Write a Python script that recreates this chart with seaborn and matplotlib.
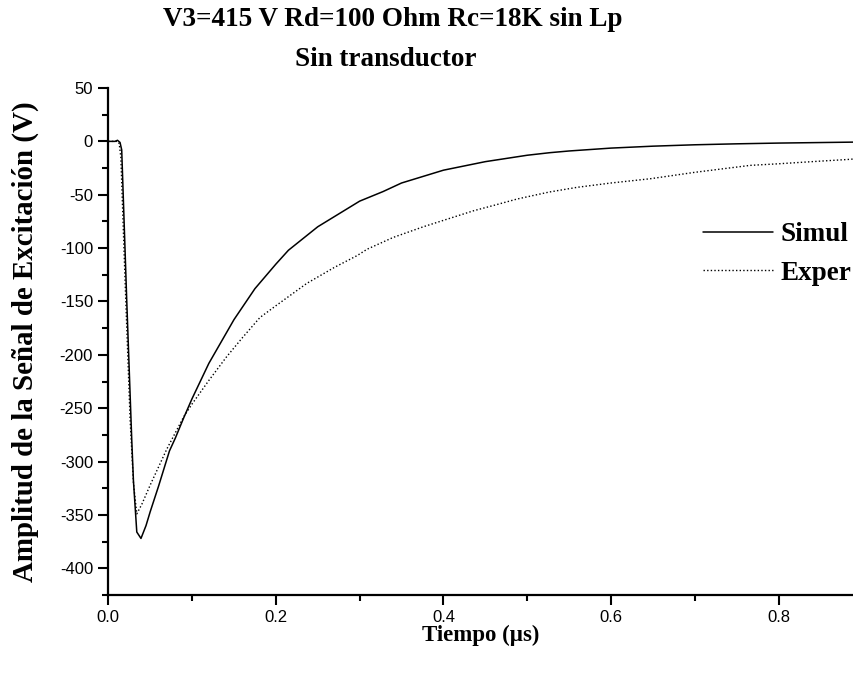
import matplotlib
matplotlib.use("Agg")
import matplotlib.pyplot as plt
import seaborn as sns
import pandas as pd

# Simulated excitation pulse (time in µs, amplitude in V)
simul_t = [0.000, 0.008, 0.011, 0.014, 0.016, 0.022, 0.028, 0.030, 0.034, 0.039,
           0.045, 0.050, 0.060, 0.073, 0.080, 0.090, 0.100, 0.120, 0.150, 0.175,
           0.200, 0.215, 0.250, 0.300, 0.328, 0.350, 0.400, 0.450, 0.500, 0.527,
           0.550, 0.600, 0.650, 0.700, 0.750, 0.800, 0.850, 0.890]
simul_v = [0.0, 0.0, 1.0, -1.0, -8.0, -149.0, -280.0, -318.0, -366.0, -372.0,
           -360.0, -347.0, -323.0, -290.0, -278.0, -259.0, -241.0, -208.0, -167.0, -138.0,
           -115.0, -102.0, -80.0, -56.0, -47.0, -39.0, -27.0, -19.0, -13.0, -10.6,
           -9.0, -6.3, -4.5, -3.2, -2.3, -1.6, -1.1, -0.7]

# Measured excitation pulse
exper_t = [0.000, 0.008, 0.011, 0.013, 0.015, 0.020, 0.026, 0.030, 0.034, 0.040,
           0.050, 0.060, 0.070, 0.080, 0.090, 0.100, 0.120, 0.141, 0.160, 0.181,
           0.200, 0.237, 0.270, 0.297, 0.309, 0.340, 0.376, 0.400, 0.436, 0.460,
           0.488, 0.526, 0.560, 0.600, 0.647, 0.700, 0.766, 0.800, 0.850, 0.882, 0.890]
exper_v = [0.0, 0.0, 0.0, -2.0, -15.0, -130.0, -260.0, -320.0, -349.0, -340.0,
           -322.0, -305.0, -288.0, -273.0, -258.0, -246.0, -224.0, -202.0, -184.0, -165.0,
           -154.0, -133.0, -118.0, -107.0, -101.0, -90.0, -80.0, -74.0, -65.0, -60.0,
           -54.0, -47.5, -43.0, -39.0, -35.0, -29.0, -22.5, -21.0, -18.5, -17.0, -16.5]

series_names = ["Simul", "Exper"]

x_ticks = [0.0, 0.2, 0.4, 0.6, 0.8]
y_ticks = [50, 0, -50, -100, -150, -200, -250, -300, -350, -400]

title_lines = ["V3=415 V Rd=100 Ohm Rc=18K sin Lp", "Sin transductor"]
x_label = "Tiempo (µs)"
y_label = "Amplitud de la Señal de Excitación (V)"

sns.set_style("ticks", {"axes.edgecolor": "black", "text.color": "black",
                        "axes.labelcolor": "black", "xtick.color": "black",
                        "ytick.color": "black"})
plt.rcParams["font.family"] = ["Liberation Sans", "DejaVu Sans"]

df_sim = pd.DataFrame({"t": simul_t, "v": simul_v})
df_exp = pd.DataFrame({"t": exper_t, "v": exper_v})

fig = plt.figure(figsize=(8.54, 6.77), dpi=100)
ax = fig.add_axes([108.3 / 854, 1 - 595 / 677, 1 - 108.3 / 854, (595 - 88) / 677])

sns.lineplot(data=df_sim, x="t", y="v", ax=ax, color="black", linewidth=1.1,
             label=series_names[0], sort=False)
sns.lineplot(data=df_exp, x="t", y="v", ax=ax, color="black", linewidth=1.0,
             linestyle=(0, (1, 1.6)), label=series_names[1], sort=False)

ax.set_xlim(0, 0.89)
ax.set_ylim(-425, 50)
ax.set_xticks(x_ticks)
ax.set_xticklabels([f"{v:.1f}" for v in x_ticks])
ax.set_yticks(y_ticks)
ax.set_yticklabels([str(v) for v in y_ticks])
ax.set_xticks([0.1, 0.3, 0.5, 0.7], minor=True)
ax.set_yticks([25, -25, -75, -125, -175, -225, -275, -325, -375, -425], minor=True)

sns.despine(ax=ax)
for s in ("left", "bottom"):
    ax.spines[s].set_linewidth(1.6)
    ax.spines[s].set_color("black")
ax.tick_params(which="major", direction="out", length=7, width=1.5, labelsize=12, pad=4,
               color="black", labelcolor="black")
ax.tick_params(which="minor", direction="out", length=4, width=1.5, color="black")

serif = ["Liberation Serif", "DejaVu Serif"]
ax.set_xlabel(x_label, family=serif, fontweight="bold", fontsize=16.5, labelpad=0,
              color="black")
ax.set_ylabel(y_label, family=serif, fontweight="bold", fontsize=20.8, labelpad=15,
              color="black")

fig.text(393 / 854, 1 - 20 / 677, title_lines[0], family=serif, fontweight="bold",
         fontsize=19.5, ha="center", va="center", color="black")
fig.text(386 / 854, 1 - 60 / 677, title_lines[1], family=serif, fontweight="bold",
         fontsize=19.5, ha="center", va="center", color="black")

leg = ax.legend(loc="upper left", bbox_to_anchor=((703 - 108.3) / (854 - 108.3), 1 - (222 - 88) / 507),
                bbox_transform=ax.transAxes, frameon=False, handlelength=2.6,
                handletextpad=0.25, labelspacing=0.5, borderaxespad=0, borderpad=0,
                prop={"family": serif, "weight": "bold", "size": 19.5})
for txt in leg.get_texts():
    txt.set_color("black")

fig.savefig("out.png", dpi=100)
